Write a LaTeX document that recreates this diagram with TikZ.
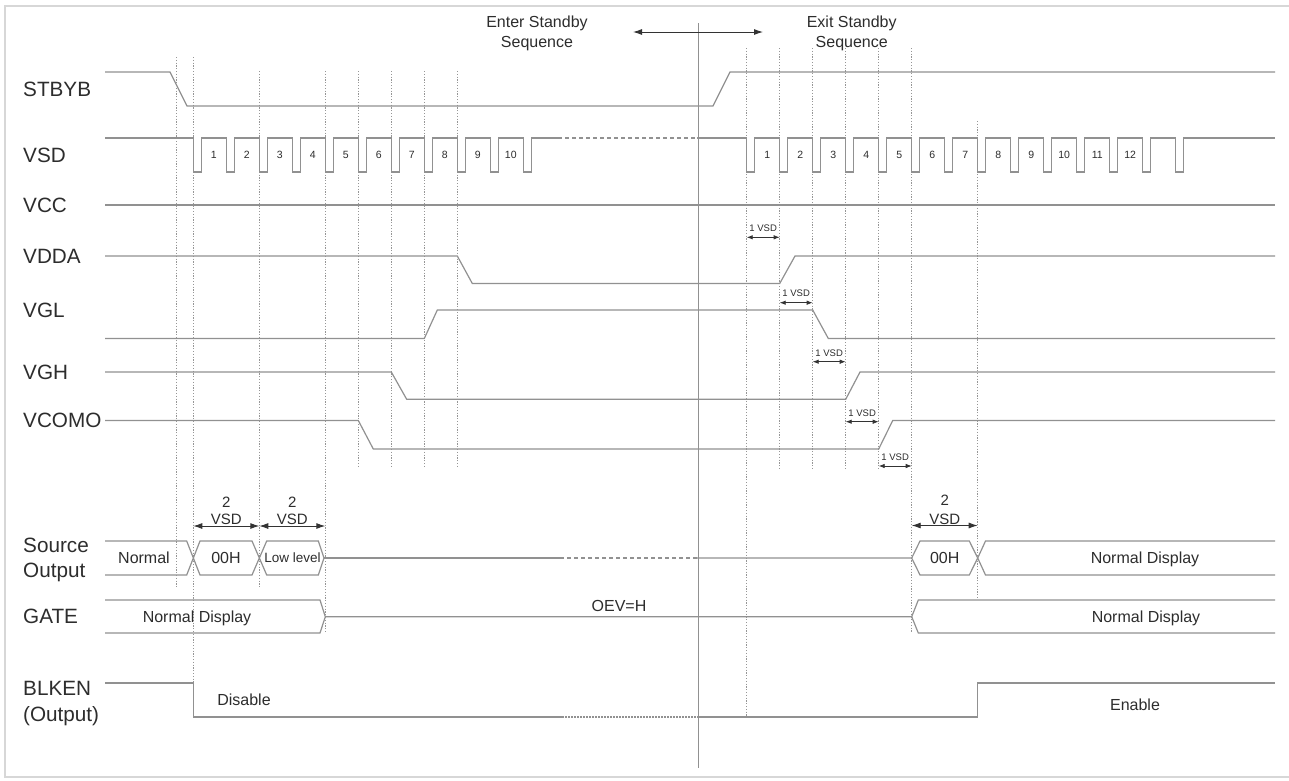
\documentclass[tikz,border=0pt]{standalone}
\usepackage{fontspec}
\setmainfont{Liberation Sans}
\usetikzlibrary{arrows.meta}
\definecolor{sigc}{RGB}{145,145,145}
\definecolor{guidec}{RGB}{150,150,150}
\definecolor{txtc}{RGB}{45,45,45}
\definecolor{framec}{RGB}{215,215,215}
\tikzset{
  sig/.style={draw=sigc, line width=1.2pt, line join=miter},
  guide/.style={draw=guidec, line width=0.8pt, dash pattern=on 1.2pt off 1.6pt},
  axisline/.style={draw=sigc, line width=1pt},
  lbl/.style={anchor=west, inner sep=0pt, text=txtc, font=\fontsize{20.7}{22}\selectfont, text height=14.8pt, text depth=0pt},
  txtA/.style={anchor=center, inner sep=0pt, text=txtc, font=\fontsize{16}{18}\selectfont, text height=11.5pt, text depth=0pt},
  txtB/.style={anchor=center, inner sep=0pt, text=txtc, font=\fontsize{15}{17}\selectfont, text height=10.7pt, text depth=0pt},
  txtS/.style={anchor=center, inner sep=0pt, text=txtc, font=\fontsize{9.5}{10}\selectfont, text height=6.8pt, text depth=0pt},
  num/.style={anchor=center, inner sep=0pt, text=txtc, font=\fontsize{10.5}{11}\selectfont, text height=7.5pt, text depth=0pt},
  lowtxt/.style={anchor=center, inner sep=0pt, text=txtc, font=\fontsize{13.5}{14}\selectfont, text height=9.7pt, text depth=0pt},
  dimarrow/.style={draw=black!80, line width=0.9pt, {Latex[length=9pt,width=6pt]}-{Latex[length=9pt,width=6pt]}},
  smallarrow/.style={draw=black!80, line width=0.8pt, {Latex[length=6pt,width=4.5pt]}-{Latex[length=6pt,width=4.5pt]}},
}
\begin{document}
\begin{tikzpicture}[x=1pt,y=-1pt]
\useasboundingbox (0,0) rectangle (1289,780);
\clip (0,0) rectangle (1289,780);
\fill[white] (0,0) rectangle (1289,780);
% frame
\draw[framec, line width=2pt] (5,6) rectangle (1300,777);

% guide lines
\draw[guide] (176.7,57) -- (176.7,587);
\draw[guide] (193.3,57) -- (193.3,683);
\draw[guide] (259.3,71) -- (259.3,588);
\draw[guide] (325.3,71) -- (325.3,633);
\foreach \x in {358.3,391.3,424.3,457.3} \draw[guide] (\x,71) -- (\x,467);
\draw[guide] (746.7,48) -- (746.7,717);
\foreach \x in {779.7,812.7,845.7,878.7} \draw[guide] (\x,48) -- (\x,470);
\draw[guide] (911.7,48) -- (911.7,632);
\draw[guide] (977.7,121) -- (977.7,598);
\draw[axisline] (698,23) -- (698,768);

% top annotation
\node[txtA] (enter1) at (537,22) {Enter Standby};
\node[txtA] (enter2) at (537,42) {Sequence};
\node[txtA] (exit1) at (851.7,22) {Exit Standby};
\node[txtA] (exit2) at (851.7,42) {Sequence};
\coordinate (ta) at (633,32);
\coordinate (tb) at (763,32);
\draw[dimarrow] (ta) -- (tb);

% labels
\node[lbl] (lstbyb) at (23,89) {STBYB};
\node[lbl] (lvsd) at (23,155) {VSD};
\node[lbl] (lvcc) at (23,205) {VCC};
\node[lbl] (lvdda) at (23,256) {VDDA};
\node[lbl] (lvgl) at (23,310) {VGL};
\node[lbl] (lvgh) at (23,372) {VGH};
\node[lbl] (lvcomo) at (23,420) {VCOMO};
\node[lbl] (lsrc1) at (23,545) {Source};
\node[lbl] (lsrc2) at (23,570) {Output};
\node[lbl] (lgate) at (23,616) {GATE};
\node[lbl] (lblk1) at (23,688) {BLKEN};
\node[lbl] (lblk2) at (23,714) {(Output)};

% STBYB
\draw[sig] (105,72) -- (170,72) -- (187,106) -- (713,106) -- (730,72) -- (1275,72);

% VSD
\draw[sig] (105,138) foreach \k in {0,...,10} { -- ({193.3+33*\k},138) -- ++(0,34) -- ++(8,0) -- ++(0,-34) } -- (558,138);
\draw[sig, dash pattern=on 4pt off 3pt] (558,138) -- (697,138);
\draw[sig] (697,138) foreach \k in {0,...,13} { -- ({746.7+33*\k},138) -- ++(0,34) -- ++(8,0) -- ++(0,-34) } -- (1275,138);
\foreach \k in {1,...,10} \node[num] (nl\k) at ({193.3+33*(\k-1)+20.5},155) {\k};
\foreach \k in {1,...,12} \node[num] (nr\k) at ({746.7+33*(\k-1)+20.5},155) {\k};

% VCC
\draw[sig] (105,205) -- (1275,205);
% VDDA
\draw[sig] (105,256) -- (457.3,256) -- (472.3,283.5) -- (779.7,283.5) -- (795,256) -- (1275,256);
% VGL
\draw[sig] (105,338.5) -- (424.3,338.5) -- (437.3,310) -- (812.7,310) -- (828.3,338.5) -- (1275,338.5);
% VGH
\draw[sig] (105,372) -- (391.3,372) -- (406.7,399.3) -- (845.7,399.3) -- (860,372) -- (1275,372);
% VCOMO
\draw[sig] (105,420.5) -- (358.3,420.5) -- (373.3,449) -- (878.7,449) -- (892.7,420.5) -- (1275,420.5);

% 1 VSD annotations
\node[txtS] (v1) at (763.2,228.3) {1 VSD};
\draw[smallarrow] (746.7,237.3) -- (779.7,237.3);
\node[txtS] (v2) at (796.2,292.7) {1 VSD};
\draw[smallarrow] (779.7,302.7) -- (812.7,302.7);
\node[txtS] (v3) at (829.2,353.3) {1 VSD};
\draw[smallarrow] (812.7,361.7) -- (845.7,361.7);
\node[txtS] (v4) at (862.2,412.7) {1 VSD};
\draw[smallarrow] (845.7,421.7) -- (878.7,421.7);
\node[txtS] (v5) at (895.2,457.3) {1 VSD};
\draw[smallarrow] (878.7,466) -- (911.7,466);

% 2 VSD annotations
\node[txtB] (t2a) at (226.3,502) {2};
\node[txtB] (t2b) at (226.3,519.5) {VSD};
\draw[dimarrow] (193.3,526) -- (259.3,526);
\node[txtB] (t2c) at (292.3,502) {2};
\node[txtB] (t2d) at (292.3,519.5) {VSD};
\draw[dimarrow] (259.3,526) -- (325.3,526);
\node[txtB] (t2e) at (944.7,500) {2};
\node[txtB] (t2f) at (944.7,519) {VSD};
\draw[dimarrow] (911.7,525.5) -- (977.7,525.5);

% Source Output
\draw[sig] (105,541) -- (186.7,541) -- (200,575) -- (252,575) -- (266.7,541) -- (318.3,541) -- (324,558) -- (318.3,575) -- (266.7,575) -- (252,541) -- (200,541) -- (186.7,575) -- (105,575);
\draw[sig] (324,558) -- (560,558);
\draw[sig, dash pattern=on 4pt off 3pt] (560,558) -- (697,558);
\draw[sig] (697,558) -- (911.7,558) -- (920,541) -- (969.3,541) -- (977.7,558) -- (969.3,575) -- (920,575) -- (911.7,558);
\draw[sig] (1275,541) -- (985.5,541) -- (977.7,558) -- (985.5,575) -- (1275,575);
\node[txtA] (snorm) at (144,558) {Normal};
\node[txtA] (s00a) at (226,558) {00H};
\node[lowtxt] (slow) at (292.5,558) {Low level};
\node[txtA] (s00b) at (944.7,558) {00H};
\node[txtA] (snd) at (1145,558) {Normal Display};

% GATE
\draw[sig] (105,600) -- (320,600) -- (325.3,616.7) -- (320,633) -- (105,633);
\draw[sig] (325.3,616.7) -- (911.7,616.7) -- (918.3,600) -- (1275,600);
\draw[sig] (911.7,616.7) -- (918.3,633) -- (1275,633);
\node[txtA] (gnd1) at (197,617) {Normal Display};
\node[txtA] (goev) at (619,606) {OEV=H};
\node[txtA] (gnd2) at (1146,617) {Normal Display};

% BLKEN
\draw[sig] (105,683) -- (193.3,683) -- (193.3,717) -- (562,717);
\draw[sig, dash pattern=on 1.5pt off 1.5pt] (562,717) -- (698,717);
\draw[sig] (698,717) -- (977.7,717) -- (977.7,683) -- (1275,683);
\node[txtA] (bdis) at (244,700) {Disable};
\node[txtA] (ben) at (1135,705) {Enable};
\end{tikzpicture}
\end{document}
